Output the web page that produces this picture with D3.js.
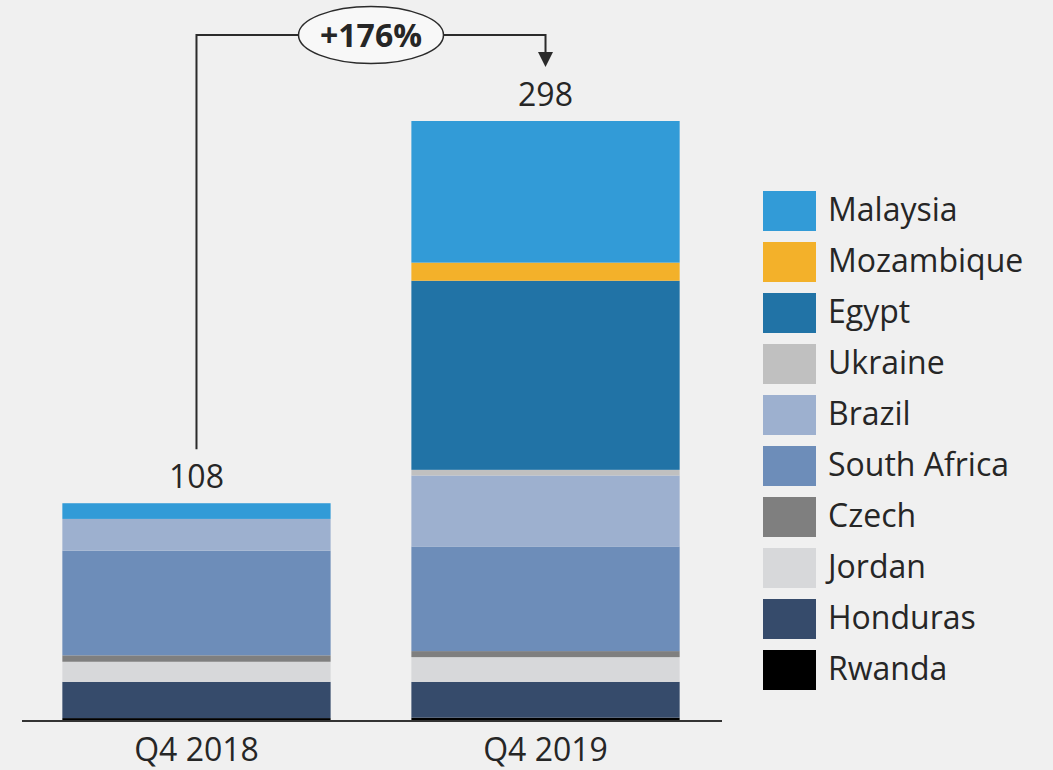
<!DOCTYPE html>
<html>
<head>
<meta charset="utf-8">
<script src="https://cdn.jsdelivr.net/npm/d3@7"></script>
<style>
  html, body { margin: 0; padding: 0; background: #f0f0f0; }
  svg { display: block; }
  text { font-family: "Open Sans", "Noto Sans", sans-serif; fill: #262626; }
</style>
</head>
<body>
<svg id="chart" width="1053" height="770"></svg>
<script>
// ---- data ----
const categories = ["Q4 2018", "Q4 2019"];
// stacking order bottom -> top
const seriesNames = ["Rwanda", "Honduras", "Jordan", "Czech", "South Africa", "Brazil", "Ukraine", "Egypt", "Mozambique", "Malaysia"];
const rwanda      = [1.2, 1.4];
const honduras    = [18.0, 17.8];
const jordan      = [10.0, 12.3];
const czech       = [3.2, 3.0];
const southAfrica = [52.0, 52.0];
const brazil      = [15.8, 35.3];
const ukraine     = [0, 2.8];
const egypt       = [0, 94.0];
const mozambique  = [0, 9.0];
const malaysia    = [7.8, 70.4];
const totals      = [108, 298];
const growthLabel = "+176%";
const seriesColors = ["#000000", "#364b6b", "#d7d8da", "#7f7f7f", "#6d8db9", "#9db0cf", "#c0c0c0", "#2173a6", "#f3b12a", "#329bd7"];

const seriesValues = [rwanda, honduras, jordan, czech, southAfrica, brazil, ukraine, egypt, mozambique, malaysia];
const rows = categories.map((c, i) => {
  const r = { category: c };
  seriesNames.forEach((s, k) => { r[s] = seriesValues[k][i]; });
  return r;
});

const svg = d3.select("#chart");

const x = d3.scaleBand().domain(categories).range([22, 720]).paddingInner(0.2314).paddingOuter(0.1156);
const y = d3.scaleLinear().domain([0, d3.max(totals)]).range([720.5, 121]);
const color = d3.scaleOrdinal().domain(seriesNames).range(seriesColors);

const stacked = d3.stack().keys(seriesNames)(rows);

// bars
svg.append("g").selectAll("g").data(stacked).join("g")
  .attr("fill", d => color(d.key))
  .selectAll("rect").data(d => d).join("rect")
  .attr("x", d => x(d.data.category))
  .attr("width", x.bandwidth())
  .attr("y", d => y(d[1]))
  .attr("height", d => Math.max(0, y(d[0]) - y(d[1])));

// axis baseline
const xAxis = d3.axisBottom(x).tickSize(0).tickPadding(20);
const axisG = svg.append("g").attr("transform", "translate(0,721)").call(xAxis);
axisG.select(".domain").attr("stroke", "#333").attr("stroke-width", 2).attr("d", "M22,0H722");
axisG.selectAll(".tick text")
  .attr("font-size", 32).attr("fill", "#262626")
  .attr("font-family", "'Open Sans', 'Noto Sans', sans-serif")
  .attr("dy", 0).attr("y", 40);

// total labels
svg.append("g").selectAll("text").data(categories).join("text")
  .attr("x", d => x(d) + x.bandwidth() / 2)
  .attr("y", (d, i) => y(totals[i]) - 15)
  .attr("text-anchor", "middle")
  .attr("font-size", 32)
  .text((d, i) => totals[i]);

// growth annotation
const cx1 = x(categories[0]) + x.bandwidth() / 2;
const cx2 = x(categories[1]) + x.bandwidth() / 2;
const topY = 35;
const ann = svg.append("g");
ann.append("path")
  .attr("d", `M${cx1},${y(totals[0]) - 54}V${topY}H${cx2}V${y(totals[1]) - 66}`)
  .attr("fill", "none").attr("stroke", "#2b2b2b").attr("stroke-width", 2);
const tipY = y(totals[1]) - 54;
ann.append("path")
  .attr("d", `M${cx2 - 7.5},${tipY - 15}L${cx2 + 7.5},${tipY - 15}L${cx2},${tipY}Z`)
  .attr("fill", "#2b2b2b");
const ex = (cx1 + cx2) / 2;
ann.append("ellipse")
  .attr("cx", ex).attr("cy", topY).attr("rx", 72.5).attr("ry", 28.5)
  .attr("fill", "#f8f8f8").attr("stroke", "#2b2b2b").attr("stroke-width", 1.5);
ann.append("text")
  .attr("x", ex).attr("y", topY + 11.5)
  .attr("text-anchor", "middle").attr("font-size", 32).attr("font-weight", "bold")
  .text(growthLabel);

// legend (top -> bottom is reverse of stack order)
const legendNames = seriesNames.slice().reverse();
const lg = svg.append("g").selectAll("g").data(legendNames).join("g")
  .attr("transform", (d, i) => `translate(763,${191 + i * 51})`);
lg.append("rect").attr("width", 53).attr("height", 40).attr("fill", d => color(d));
lg.append("text").attr("x", 65).attr("y", 30).attr("font-size", 32).text(d => d);
</script>
</body>
</html>
